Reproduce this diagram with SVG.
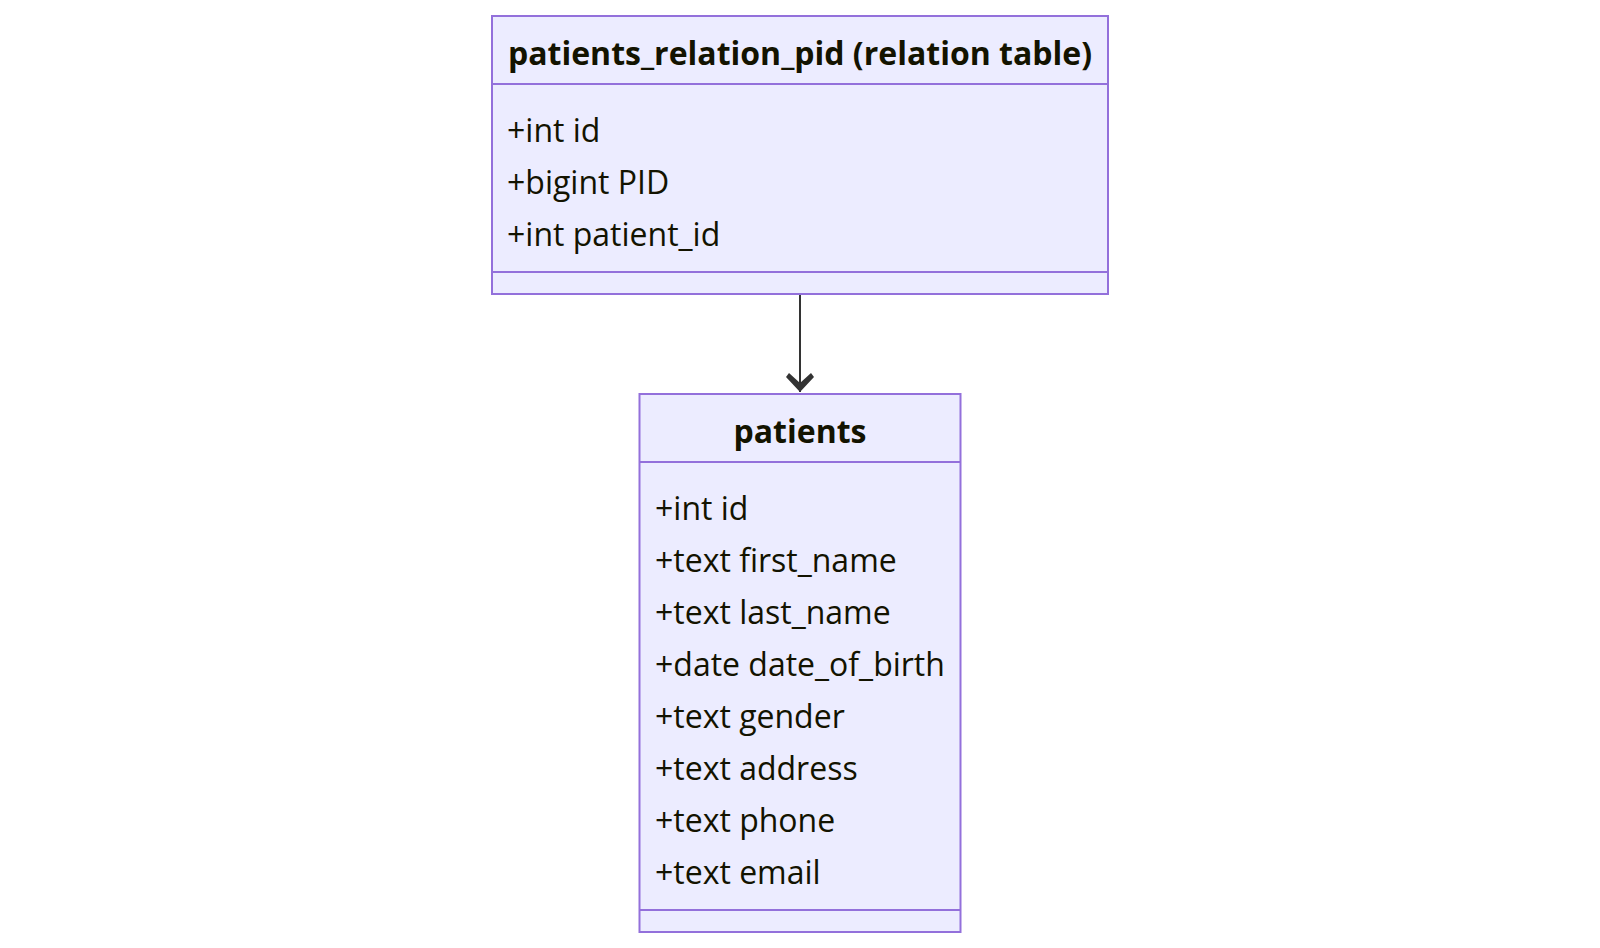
<svg xmlns="http://www.w3.org/2000/svg" width="1600" height="948" viewBox="0 0 1600 948">
<style>
.box{fill:#ECECFF;stroke:#9370DB;stroke-width:2}
.div{stroke:#9370DB;stroke-width:2}
.title{font-family:"Open Sans","Noto Sans",sans-serif;font-size:32px;font-weight:bold;fill:#131300;text-anchor:middle}
.attr{font-family:"Open Sans","Noto Sans",sans-serif;font-size:32px;fill:#131300}
.edge{stroke:#333333;stroke-width:2;fill:none}
</style>
<defs>
<marker id="arrow" markerUnits="userSpaceOnUse" markerWidth="20" markerHeight="28" refX="19" refY="14" orient="auto" viewBox="0 0 20 28">
<path d="M0,3 L4,0 L19,14 L4,28 L0,25 L10,14 Z" fill="#333333"/>
</marker>
</defs>
<g id="connectors">
<path class="edge" d="M800,295 L800,392" marker-end="url(#arrow)"/>
</g>
<g id="node-patients_relation_pid">
<rect class="box" x="492" y="16" width="616" height="278"/>
<line class="div" x1="492" y1="84" x2="1108" y2="84"/>
<line class="div" x1="492" y1="272" x2="1108" y2="272"/>
<text class="title" x="800" y="65">patients_relation_pid (relation table)</text>
<text class="attr" x="507" y="141.5">+int id</text>
<text class="attr" x="507" y="193.5">+bigint PID</text>
<text class="attr" x="507" y="245.5">+int patient_id</text>
</g>
<g id="node-patients">
<rect class="box" x="639.5" y="394" width="321" height="538"/>
<line class="div" x1="639.5" y1="462" x2="960.5" y2="462"/>
<line class="div" x1="639.5" y1="910" x2="960.5" y2="910"/>
<text class="title" x="800" y="443">patients</text>
<text class="attr" x="655" y="519.5">+int id</text>
<text class="attr" x="655" y="571.5">+text first_name</text>
<text class="attr" x="655" y="623.5">+text last_name</text>
<text class="attr" x="655" y="675.5">+date date_of_birth</text>
<text class="attr" x="655" y="727.5">+text gender</text>
<text class="attr" x="655" y="779.5">+text address</text>
<text class="attr" x="655" y="831.5">+text phone</text>
<text class="attr" x="655" y="883.5">+text email</text>
</g>
</svg>
